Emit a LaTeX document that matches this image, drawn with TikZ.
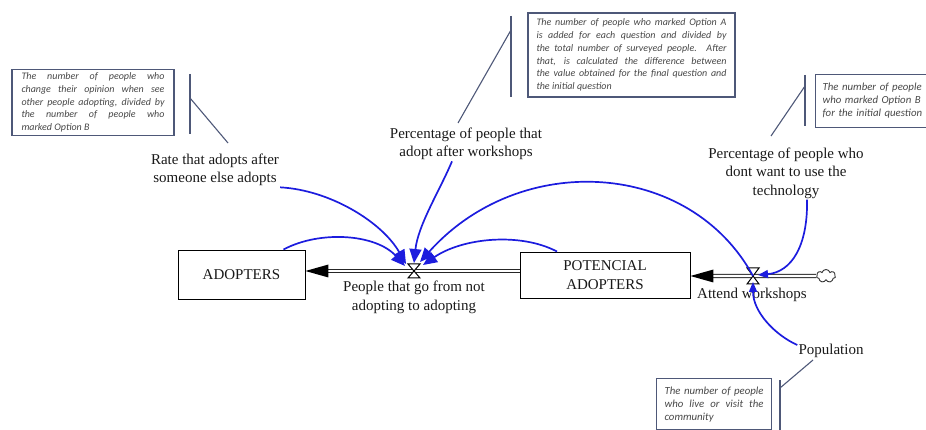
\documentclass[tikz,border=0pt]{standalone}
\usepackage{fontspec}
\setmainfont{Liberation Serif}
\newfontfamily\notefont{Carlito}
\usetikzlibrary{arrows.meta,shapes.symbols}

\definecolor{linkblue}{RGB}{28,28,222}
\definecolor{notegray}{RGB}{72,72,72}
\definecolor{noteedge}{RGB}{78,88,120}
\definecolor{inkdark}{RGB}{25,25,25}

% one justified line of a comment box
\newcommand{\jl}[2]{\makebox[#1][s]{#2}}

\tikzset{
  label/.style={font=\fontsize{15}{18.5}\selectfont, text=inkdark, align=center, inner sep=1pt},
  stock/.style={draw=black, line width=0.9pt, fill=white, font=\fontsize{15}{18.5}\selectfont,
    text=inkdark, align=center, inner sep=0pt},
  notebox/.style={draw=noteedge, line width=1.1pt, fill=white, text=notegray,
    font=\notefont\itshape\fontsize{10}{12.8}\selectfont, align=left},
  bignote/.style={font=\notefont\itshape\fontsize{10.8}{13}\selectfont},
  notelink/.style={draw=noteedge, line width=1.1pt},
  pipe/.style={draw=black!85, line width=0.9pt, double=white, double distance=2.4pt},
  link/.style={draw=linkblue, line width=1.7pt, -{Triangle[length=14pt,width=12pt]}},
  smalllink/.style={draw=linkblue, line width=1.7pt, -{Triangle[length=10pt,width=8pt]}},
  valve/.style={draw=black, line width=1pt, fill=white},
}

\begin{document}
\begin{tikzpicture}[x=1pt,y=-1pt]
\useasboundingbox (0,0) rectangle (926,430);

% ---- stocks and source ----
\node[stock, minimum width=127pt, minimum height=49pt] (ad) at (241.5,274.5) {ADOPTERS};
\node[stock, minimum width=170pt, minimum height=46pt] (pa) at (605,275) {POTENCIAL\\ADOPTERS};
\node[cloud, draw=black!80, line width=0.9pt, cloud puffs=7, aspect=1.6,
      minimum width=19pt, minimum height=13pt, inner sep=0pt] (src) at (826,276) {};

% ---- valve positions ----
\coordinate (v1) at (414,271);
\coordinate (v2) at (753,276);

% ---- pipes ----
\draw[pipe] (pa.west |- v1) -- ([xshift=20pt]ad.east |- v1);
\fill[black] (ad.east |- v1) -- ++(23,-6.5) -- ++(0,13) -- cycle;
\draw[pipe] (src.west) -- ([xshift=20pt]pa.east |- v2);
\fill[black] (pa.east |- v2) -- ++(23,-6.5) -- ++(0,13) -- cycle;

% ---- valves (hourglass) ----
\draw[valve] ([shift={(-6,-7)}]v1) -- ++(12,0) -- ++(-12,14) -- ++(12,0) -- cycle;
\draw[valve] ([shift={(-6,-8)}]v2) -- ++(12,0) -- ++(-12,16) -- ++(12,0) -- cycle;

% ---- variable names ----
\node[label] (rate) at (215,170) {Rate that adopts after\\someone else adopts};
\node[label] (padopt) at (466,144) {Percentage of people that\\adopt after workshops};
\node[label] (pwho) at (786,173) {Percentage of people who\\dont want to use the\\technology};
\node[label] (flow1) at (414,297.5) {People that go from not\\adopting to adopting};
\node[label] (flow2) at (752,295) {Attend workshops};
\node[label] (pop) at (831,351) {Population};

% ---- influence links ----
\draw[link] (rate.south east) .. controls (330,190) and (382,222) .. ([shift={(-8,-7)}]v1);
\draw[link] ([xshift=-22pt]ad.north east) .. controls (320,230) and (376,234) .. ([shift={(-9,-5)}]v1);
\draw[link] ([xshift=-14pt]padopt.south) .. controls (440,190) and (418,225) .. ([shift={(0,-8)}]v1);
\draw[link] (v2) .. controls (690,160) and (520,150) .. ([shift={(6,-9)}]v1);
\draw[link] ([xshift=-48pt]pa.north) .. controls (520,232) and (462,238) .. ([shift={(9,-6)}]v1);
\draw[smalllink] ([xshift=21pt]pwho.south) .. controls (808,245) and (792,272) .. ([shift={(5,-1)}]v2);
\draw[smalllink] ([yshift=6pt]pop.west) .. controls (775,335) and (753,312) .. ([shift={(0,6)}]v2);

% ---- comment boxes ----
\node[notebox, minimum width=162pt, minimum height=60pt] (n1) at (93,102.5)
  {\jl{143pt}{The number of people who}\\
   \jl{143pt}{change their opinion when see}\\
   \jl{143pt}{other people adopting, divided by}\\
   \jl{143pt}{the number of people who}\\
   marked Option B};
\node[notebox, minimum width=207pt, minimum height=84pt] (n2) at (631.5,55)
  {\jl{190pt}{The number of people who marked Option A}\\
   \jl{190pt}{is added for each question and divided by}\\
   \jl{190pt}{the total number of surveyed people. After}\\
   \jl{190pt}{that, is calculated the difference between}\\
   \jl{190pt}{the value obtained for the final question and}\\
   the initial question};
\node[notebox, bignote, anchor=north west, minimum height=53pt, text width=116pt, inner xsep=7pt] (n3) at (815,74)
  {The number of people\\who marked Option B\\for the initial question};
\node[notebox, bignote, anchor=north west, inner xsep=8pt, inner ysep=8pt] (n4) at (656,378)
  {\jl{99pt}{The number of people}\\
   \jl{99pt}{who live or visit the}\\
   community};

% ---- comment attachments ----
\coordinate (b1t) at (190,74);  \coordinate (b1b) at (190,134);
\coordinate (b1k) at (190,98);  \coordinate (b1e) at (228,143);
\draw[notelink] (b1t) -- (b1b);
\draw[notelink] (b1k) -- (b1e);

\coordinate (b2t) at (511,16);  \coordinate (b2b) at (511,97);
\coordinate (b2k) at (511,30);  \coordinate (b2e) at (458,123);
\draw[notelink] (b2t) -- (b2b);
\draw[notelink] (b2k) -- (b2e);

\coordinate (b3t) at (805,75);  \coordinate (b3b) at (805,126);
\coordinate (b3k) at (805,86);  \coordinate (b3e) at (771,136);
\draw[notelink] (b3t) -- (b3b);
\draw[notelink] (b3k) -- (b3e);

\coordinate (b4t) at (780,380); \coordinate (b4b) at (780,432);
\coordinate (b4k) at (780,388); \coordinate (b4e) at (813,360);
\draw[notelink] (b4t) -- (b4b);
\draw[notelink] (b4k) -- (b4e);
\end{tikzpicture}
\end{document}
